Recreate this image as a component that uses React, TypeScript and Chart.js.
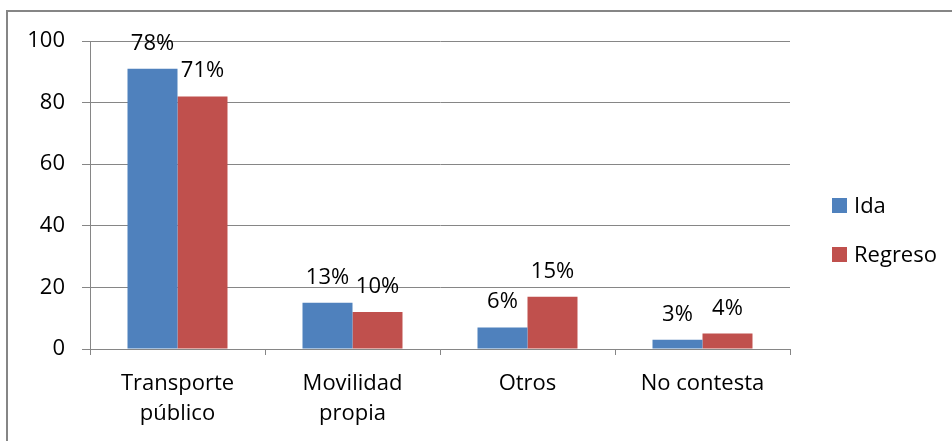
import React, { useEffect, useRef } from "react";
import { Chart, registerables } from "chart.js";

Chart.register(...registerables);

const categories: string[][] = [["Transporte", "público"], ["Movilidad", "propia"], ["Otros"], ["No contesta"]];
const seriesNames = ["Ida", "Regreso"];
const idaValues = [91, 15, 7, 3];
const regresoValues = [82, 12, 17, 5];
const idaLabels = ["78%", "13%", "6%", "3%"];
const regresoLabels = ["71%", "10%", "15%", "4%"];
const seriesColors = ["#4F81BD", "#C0504D"];
const yTicks = { min: 0, max: 100, step: 20 };

const FONT = "'Open Sans', sans-serif";
const GRID = "#868686";

export default function App() {
  const ref = useRef<HTMLCanvasElement>(null);
  useEffect(() => {
    if (!ref.current) return;
    const labelSets = [idaLabels, regresoLabels];
    const overlay = {
      id: "overlay",
      afterDatasetsDraw(chart: any) {
        const ctx = chart.ctx;
        ctx.save();
        ctx.font = `22px ${FONT}`;
        ctx.fillStyle = "#000";
        ctx.textAlign = "center";
        ctx.textBaseline = "alphabetic";
        chart.data.datasets.forEach((ds: any, di: number) => {
          const meta = chart.getDatasetMeta(di);
          meta.data.forEach((el: any, i: number) => {
            ctx.fillText(labelSets[di][i], el.x, el.y - 19);
          });
        });
        ctx.restore();
      },
      afterDraw(chart: any) {
        const ctx = chart.ctx;
        ctx.save();
        // outer frame
        ctx.strokeStyle = GRID;
        ctx.lineWidth = 2;
        ctx.strokeRect(7, 11, 1000, 1000);
        // legend
        ctx.font = `22px ${FONT}`;
        ctx.textAlign = "left";
        ctx.textBaseline = "middle";
        const rows = [205.5, 254.5];
        chart.data.datasets.forEach((ds: any, di: number) => {
          const cy = rows[di];
          ctx.fillStyle = ds.backgroundColor;
          ctx.fillRect(832, cy - 7.5, 15, 15);
          ctx.fillStyle = "#000";
          ctx.fillText(ds.label, 854, cy + 1);
        });
        ctx.restore();
      },
    };
    const chart = new Chart(ref.current, {
      type: "bar",
      data: {
        labels: categories,
        datasets: [
          { label: seriesNames[0], data: idaValues, backgroundColor: seriesColors[0], borderWidth: 0 },
          { label: seriesNames[1], data: regresoValues, backgroundColor: seriesColors[1], borderWidth: 0 },
        ],
      },
      options: {
        responsive: false,
        animation: false,
        datasets: { bar: { categoryPercentage: 0.5714, barPercentage: 1 } },
        layout: { padding: { left: 0, top: 41, right: 162, bottom: 0 } },
        plugins: { legend: { display: false }, tooltip: { enabled: false } },
        scales: {
          x: {
            grid: { display: true, drawOnChartArea: false, drawTicks: true, tickLength: 6, color: GRID, offset: true },
            border: { display: true, color: GRID, width: 1 },
            ticks: { color: "#000", font: { family: FONT, size: 22, lineHeight: "30px" }, padding: 14, maxRotation: 0, autoSkip: false },
            afterFit(scale: any) { scale.height = 92; },
          },
          y: {
            min: yTicks.min,
            max: yTicks.max,
            grid: { color: GRID, tickLength: 8, lineWidth: 1 },
            border: { display: true, color: GRID, width: 1 },
            ticks: { stepSize: yTicks.step, color: "#000", font: { family: FONT, size: 22 }, padding: 17 },
            afterFit(scale: any) { scale.width = 90; },
          },
        },
      },
      plugins: [overlay],
    });
    return () => chart.destroy();
  }, []);
  return (
    <div style={{ position: "fixed", left: 0, top: 0, width: 952, height: 441, background: "#fff" }}>
      <canvas ref={ref} width={952} height={441} style={{ display: "block" }} />
    </div>
  );
}
